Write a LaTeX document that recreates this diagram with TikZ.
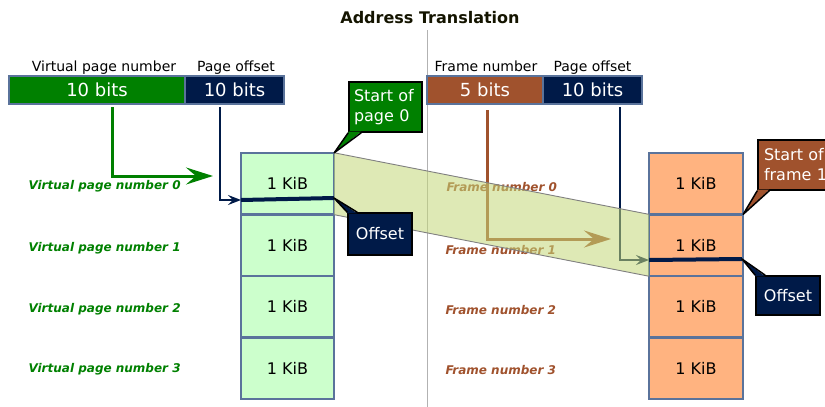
\documentclass[tikz,border=0pt]{standalone}
\usepackage{fontspec}
\setmainfont{DejaVu Sans}
\usetikzlibrary{arrows.meta,calc}
\definecolor{vgreen}{RGB}{0,128,0}
\definecolor{navy}{RGB}{0,26,72}
\definecolor{sienna}{RGB}{160,82,45}
\definecolor{lgreen}{RGB}{204,255,204}
\definecolor{peach}{RGB}{255,179,128}
\definecolor{slate}{RGB}{90,115,155}
\definecolor{bandc}{RGB}{195,215,120}
\definecolor{titlec}{RGB}{20,20,0}
\begin{document}
\begin{tikzpicture}[x=1pt,y=-1pt,
  cell/.style={minimum height=61.5pt,inner sep=0pt,font=\fontsize{16}{19}\selectfont},
  lcell/.style={cell,fill=lgreen,minimum width=93pt},
  rcell/.style={cell,fill=peach,minimum width=94pt},
  cellborder/.style={draw=slate,line width=2pt},
  field/.style={draw=slate,line width=1.2pt,minimum height=28pt,inner sep=0pt,text=white,font=\fontsize{18}{20}\selectfont},
  fieldlab/.style={anchor=base,font=\fontsize{14}{16}\selectfont},
  vlab/.style={anchor=base west,text=vgreen,font=\fontsize{12}{14}\selectfont\bfseries\itshape},
  flab/.style={vlab,text=sienna},
  callout/.style={draw=black,line width=1.5pt,text=white,inner sep=0pt,font=\fontsize{16}{20}\selectfont},
  tailedge/.style={draw=black,line width=1.5pt,line join=round},
  bigarrow/.style={line width=3pt,-{Stealth[length=27pt,width=17pt,inset=10pt]}},
  smallarrow/.style={line width=1.5pt,-{Stealth[length=13pt,width=10pt,inset=5pt]}},
  offline/.style={navy,line width=4pt},
  bandedge/.style={draw=gray,line width=0.9pt},
]
\useasboundingbox (0,0) rectangle (825,407);

% title and divider
\node[font=\fontsize{16}{18}\selectfont\bfseries,text=titlec] (title) at (430,18) {Address Translation};
\coordinate (divtop) at (427,30);
\coordinate (divbot) at (427,407);
\draw[gray!60,line width=0.8pt] (divtop) -- (divbot);

% address fields
\node[field,fill=vgreen,minimum width=176pt] (vpn) at (97,90) {10 bits};
\node[field,fill=navy,minimum width=99pt] (voff) at (234.5,90) {10 bits};
\node[field,fill=sienna,minimum width=116pt] (fn) at (485,90) {5 bits};
\node[field,fill=navy,minimum width=99pt] (foff) at (592.5,90) {10 bits};
\node[fieldlab] (vpnl) at (104,71) {Virtual page number};
\node[fieldlab] (voffl) at (236,71) {Page offset};
\node[fieldlab] (fnl) at (486,71) {Frame number};
\node[fieldlab] (foffl) at (592.5,71) {Page offset};

% memory columns
\foreach \i/\y in {0/183.75,1/245.25,2/306.75,3/368.25} {
  \node[lcell] (v\i) at (287.5,\y) {1 KiB};
  \node[rcell] (f\i) at (696,\y) {1 KiB};
}
\foreach \i in {0,1,2,3} {
  \draw[cellborder] (v\i.north west) rectangle (v\i.south east);
  \draw[cellborder] (f\i.north west) rectangle (f\i.south east);
}

% row labels
\node[vlab] (vl0) at (25,189) {Virtual page number 0};
\node[vlab] (vl1) at (25,251.5) {Virtual page number 1};
\node[vlab] (vl2) at (25,312) {Virtual page number 2};
\node[vlab] (vl3) at (25,372) {Virtual page number 3};
\node[flab] (fl0) at (443,191.5) {Frame number 0};
\node[flab] (fl1) at (442,254) {Frame number 1};
\node[flab] (fl2) at (442,314.5) {Frame number 2};
\node[flab] (fl3) at (442,374) {Frame number 3};

% arrows
\coordinate (ga) at (112,107);
\coordinate (gb) at (213,176);
\draw[bigarrow,vgreen] (ga) |- (gb);
\coordinate (na) at (220,107);
\coordinate (nb) at (241,200);
\coordinate (nc) at (334,198);
\draw[smallarrow,navy] (na) |- (nb);
\draw[offline] (nb) -- (nc);

\coordinate (ba) at (487,110);
\coordinate (bb) at (611,239);
\draw[bigarrow,sienna] (ba) |- (bb);
\coordinate (ra) at (620,107);
\coordinate (rb) at (649,260);
\coordinate (rc) at (742,259);
\draw[smallarrow,navy] (ra) |- (rb);
\draw[offline] (rb) -- (rc);

% translucent band
\fill[bandc,fill opacity=0.55] (v0.north east) -- (f1.north west) -- (f1.south west) -- (v0.south east) -- cycle;
\draw[bandedge] (v0.north east) -- (f1.north west);
\draw[bandedge] (v0.south east) -- (f1.south west);

% callouts
\node[callout,fill=vgreen,minimum width=73pt,minimum height=50pt,text width=63pt,align=left] (sp0) at (385.5,107) {Start of\\page 0};
\fill[vgreen] ($(sp0.south west)+(0.75,-1.2)$) -- (v0.north east) -- ($(sp0.south west)+(13,-1.2)$) -- cycle;
\draw[tailedge] (sp0.south west) -- (v0.north east) -- ($(sp0.south west)+(13,0)$);

\node[callout,fill=navy,minimum width=64pt,minimum height=42pt] (off0) at (380,234) {Offset};
\fill[navy] ($(off0.north west)+(0.75,1.2)$) -- (nc) -- ($(off0.north west)+(10,1.2)$) -- cycle;
\draw[tailedge] (off0.north west) -- (nc) -- ($(off0.north west)+(10,0)$);

\node[callout,fill=sienna,minimum width=77pt,minimum height=50pt,text width=65pt,align=left] (sf1) at (796.5,165) {Start of\\frame 1};
\fill[sienna] ($(sf1.south west)+(0.75,-1.2)$) -- (f1.north east) -- ($(sf1.south west)+(12,-1.2)$) -- cycle;
\draw[tailedge] (sf1.south west) -- (f1.north east) -- ($(sf1.south west)+(12,0)$);

\node[callout,fill=navy,minimum width=64pt,minimum height=39pt] (off1) at (788,295.5) {Offset};
\fill[navy] ($(off1.north west)+(0.75,1.2)$) -- (rc) -- ($(off1.north west)+(10,1.2)$) -- cycle;
\draw[tailedge] (off1.north west) -- (rc) -- ($(off1.north west)+(10,0)$);
\end{tikzpicture}
\end{document}
